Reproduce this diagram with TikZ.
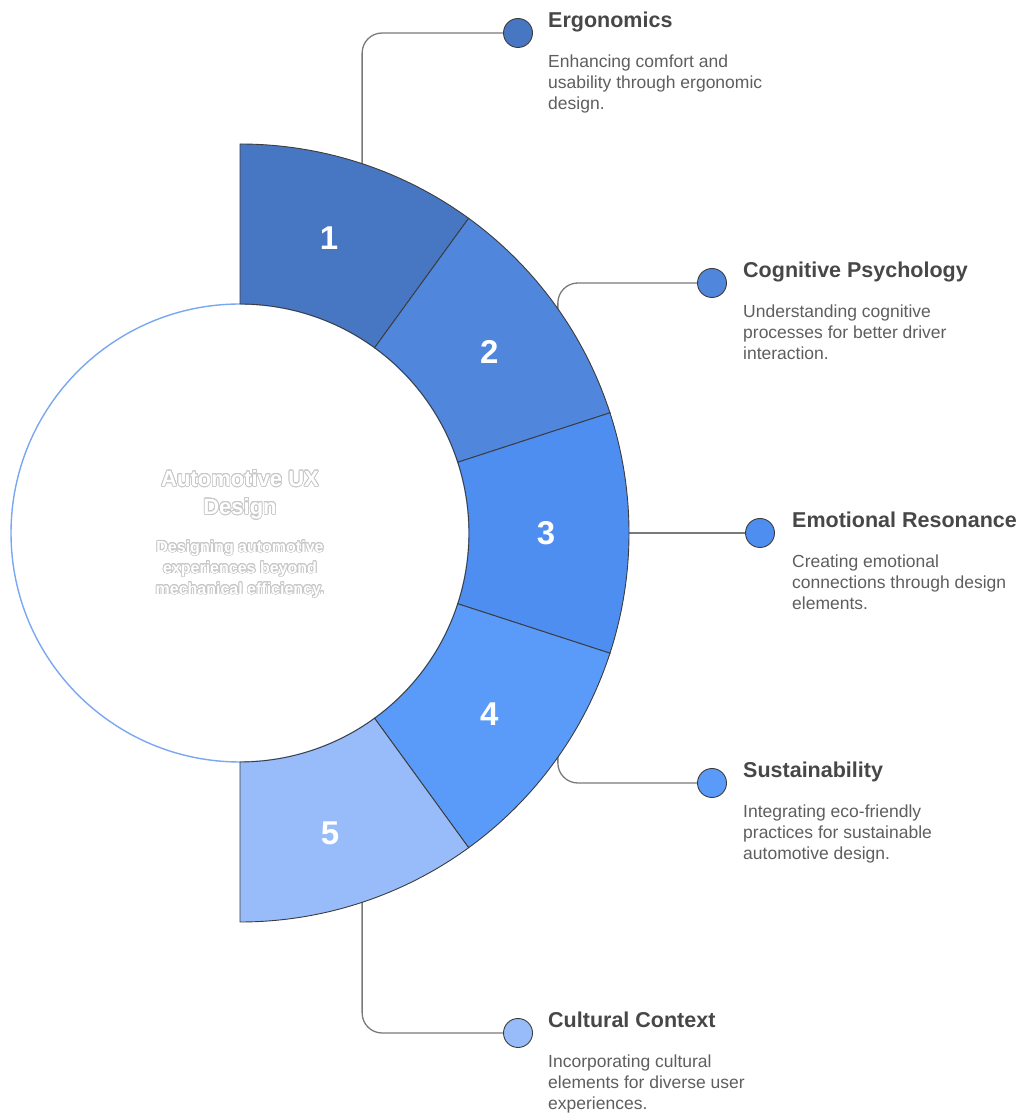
\documentclass[tikz,border=0pt]{standalone}
\usepackage{fontspec}
\setmainfont{Liberation Sans}
\usepackage{contour}
\contourlength{0.7pt}
\contournumber{24}
\usetikzlibrary{calc}
\definecolor{cA}{HTML}{4777C3}
\definecolor{cB}{HTML}{5086DC}
\definecolor{cC}{HTML}{4E8EF0}
\definecolor{cD}{HTML}{5A9BFA}
\definecolor{cE}{HTML}{98BCFA}
\definecolor{ringline}{HTML}{7AA7F2}
\definecolor{edge}{HTML}{3C3C3C}
\definecolor{connc}{HTML}{7A7A7A}
\definecolor{headc}{HTML}{474747}
\definecolor{descc}{HTML}{5E5E5E}
\definecolor{outl}{HTML}{C8C8C8}
\begin{document}
\begin{tikzpicture}[x=1pt,y=1pt,
  seg/.style={draw=edge,line width=0.9pt},
  conn/.style={draw=connc,line width=1.3pt,rounded corners=20pt},
  dot/.style={circle,draw=edge,line width=0.9pt,minimum size=29pt,inner sep=0pt},
  num/.style={text=white,font=\bfseries\fontsize{33}{36}\selectfont},
  head/.style={anchor=base west,inner sep=0pt,text=headc,font=\bfseries\fontsize{21.5}{25}\selectfont},
  desc/.style={anchor=north west,inner sep=0pt,align=left,text=descc,font=\fontsize{17.5}{21}\selectfont},
  ctitle/.style={anchor=north,inner sep=0pt,align=center,text=white,font=\bfseries\fontsize{22}{28}\selectfont},
  cdesc/.style={anchor=north,inner sep=0pt,align=center,text=white,font=\bfseries\fontsize{16}{21}\selectfont}]
\useasboundingbox (0,0) rectangle (1020,1114);
\coordinate (C) at (240,581);
% connectors start points on the outer arc
\coordinate (s1) at ($(C)+(71.7:389)$);
\coordinate (s2) at ($(C)+(35.2:389)$);
\coordinate (s3) at ($(C)+(0:389)$);
\coordinate (s4) at ($(C)+(-35.2:389)$);
\coordinate (s5) at ($(C)+(-71.7:389)$);
% dot centres
\path (518,1081) coordinate (p1) (712,831) coordinate (p2) (760,581) coordinate (p3)
      (712,331) coordinate (p4) (518,81) coordinate (p5);
% connectors (drawn first, dots on top)
\draw[conn] (s1) |- ($(p1)+(-14.5,0)$);
\draw[conn] (s2) |- ($(p2)+(-14.5,0)$);
\draw[conn] (s3) -- ($(p3)+(-14.5,0)$);
\draw[conn] (s4) |- ($(p4)+(-14.5,0)$);
\draw[conn] (s5) |- ($(p5)+(-14.5,0)$);
% dots
\node[dot,fill=cA] (d1) at (p1) {};
\node[dot,fill=cB] (d2) at (p2) {};
\node[dot,fill=cC] (d3) at (p3) {};
\node[dot,fill=cD] (d4) at (p4) {};
\node[dot,fill=cE] (d5) at (p5) {};
% inner circle
\node[circle,draw=ringline,line width=1.4pt,fill=white,minimum size=458pt,inner sep=0pt] (core) at (C) {};
% ring segments
\foreach \a/\b/\c in {90/54/cA,54/18/cB,18/-18/cC,-18/-54/cD,-54/-90/cE}{
  \draw[seg,fill=\c] ($(C)+(\a:389)$) arc[start angle=\a,end angle=\b,radius=389]
    -- ($(C)+(\b:229)$) arc[start angle=\b,end angle=\a,radius=229] -- cycle;
}
\node[num] (n1) at (329,876) {1};
\node[num] (n2) at ($(C)+(36:308)$) {2};
\node[num] (n3) at ($(C)+(0:306)$) {3};
\node[num] (n4) at ($(C)+(-36:308)$) {4};
\node[num] (n5) at (330,281) {5};
% center text
\node[ctitle] (ct) at (240,643.8) {\contour{outl}{Automotive UX}\\\contour{outl}{Design}};
\node[cdesc] (cd) at (240,573.5) {\contour{outl}{Designing automotive}\\\contour{outl}{experiences beyond}\\\contour{outl}{mechanical efficiency.}};
% labels
\node[head] (h1) at (548,1086) {Ergonomics};
\node[desc] (t1) at (548,1059.3) {Enhancing comfort and\\usability through ergonomic\\design.};
\node[head] (h2) at (743,836) {Cognitive Psychology};
\node[desc] (t2) at (743,809.3) {Understanding cognitive\\processes for better driver\\interaction.};
\node[head] (h3) at (792,586) {Emotional Resonance};
\node[desc] (t3) at (792,559.3) {Creating emotional\\connections through design\\elements.};
\node[head] (h4) at (743,336) {Sustainability};
\node[desc] (t4) at (743,309.3) {Integrating eco-friendly\\practices for sustainable\\automotive design.};
\node[head] (h5) at (548,86) {Cultural Context};
\node[desc] (t5) at (548,59.3) {Incorporating cultural\\elements for diverse user\\experiences.};
\end{tikzpicture}
\end{document}
